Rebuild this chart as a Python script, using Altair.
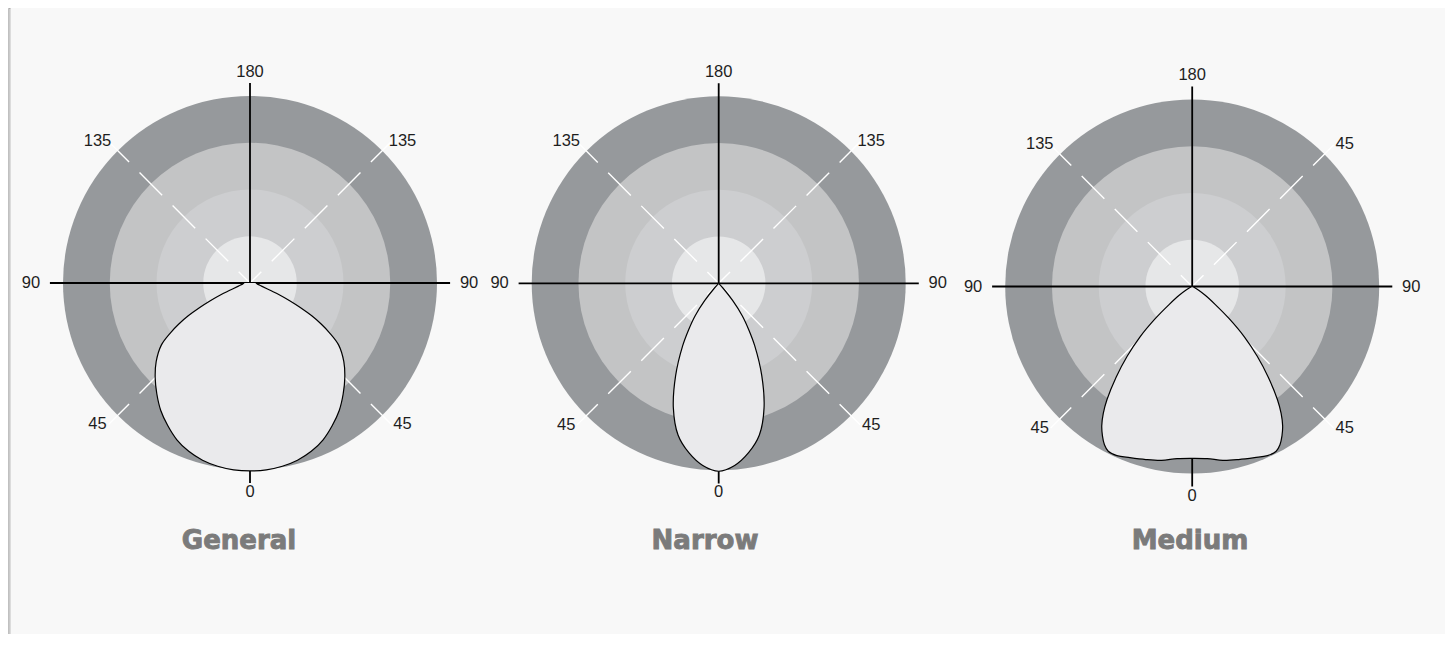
import math
import altair as alt
import pandas as pd

# ---------------- data (relative luminous intensity, % of ring scale) ----------------
PANELS = ["General", "Narrow", "Medium"]

# angle from nadir (deg) -> relative intensity (%), outer ring = 100
GENERAL_ANGLE = [0, 5, 10, 15, 20, 25, 30, 35, 40, 45, 50, 55, 58, 60, 62, 64, 66, 68, 70, 75, 80, 85, 90]
GENERAL_VALUE = [100.5, 100.3, 99.5, 98.1, 95.8, 92.5, 88.0, 83.2, 77.5, 71.7, 65.5, 57.9, 50.0,
                 44.1, 37.4, 29.9, 23.0, 17.1, 11.8, 6.4, 4.3, 3.5, 3.2]

NARROW_ANGLE = [0, 5, 10, 15, 20, 25, 30, 33, 36, 39, 42, 44]
NARROW_VALUE = [100.5, 97.8, 92.0, 84.0, 70.9, 54.5, 38.5, 29.4, 21.4, 11.8, 3.2, 0.0]

MEDIUM_ANGLE = [0, 5, 10, 15, 20, 24, 27, 29, 31, 33, 35, 37, 40, 43, 46, 49, 52, 56, 60, 65, 70]
MEDIUM_VALUE = [91.9, 92.4, 94.4, 95.8, 97.4, 99.0, 98.9, 96.8, 93.2, 88.8, 82.9, 75.7, 63.3,
                51.0, 38.9, 26.2, 15.7, 8.4, 4.0, 1.3, 0.0]

RING_LEVELS = [100, 75, 50, 25]
DIRECTIONS = [0, 45, 90, 135, 180, -135, -90, -45]       # degrees from nadir, + = right side
GENERAL_LABELS = ["0", "45", "90", "135", "180", "135", "90", "45"]
NARROW_LABELS = ["0", "45", "90", "135", "180", "135", "90", "45"]
MEDIUM_LABELS = ["0", "45", "90", "45", "180", "135", "90", "45"]
AXIS_EXTENT = 107.0   # axes / diagonals reach slightly beyond the outer ring

CURVES = {
    "General": (GENERAL_ANGLE, GENERAL_VALUE),
    "Narrow": (NARROW_ANGLE, NARROW_VALUE),
    "Medium": (MEDIUM_ANGLE, MEDIUM_VALUE),
}
LABELS = {"General": GENERAL_LABELS, "Narrow": NARROW_LABELS, "Medium": MEDIUM_LABELS}

# ---------------- layout / style ----------------
W, H = 1437, 626
PX = 1.87                                   # pixels per 1 % intensity
CENTER_PX = {"General": (242.0, 275.0), "Narrow": (710.7, 275.3), "Medium": (1184.2, 278.5)}
TITLE_X_PX = {"General": 231.0, "Narrow": 697.0, "Medium": 1182.0}
TITLE_Y_PX = 541.0
LABEL_OFFSET_PX = {0: (0, 9), 45: (11, 0), 90: (19, 0), 135: (11, -1), 180: (0, -11),
                   -135: (-11, -1), -90: (-19, 0), -45: (-11, 0)}
X0, Y0 = CENTER_PX["General"]
XDOM = [-X0 / PX, (W - X0) / PX]
YDOM = [-(H - Y0) / PX, Y0 / PX]

RING_COLORS = ["#96999c", "#c3c4c5", "#cdced0", "#e6e7e8"]
SHAPE_FILL = "#eaeaec"
CARD = "#f8f8f8"


def to_units(xpx, ypx):
    return (xpx - X0) / PX, -(ypx - Y0) / PX


xs = alt.Scale(domain=XDOM, nice=False, zero=False)
ys = alt.Scale(domain=YDOM, nice=False, zero=False)

# ---------------- tables ----------------
ring_rows, shape_rows, diag_rows, axis_rows, label_rows, title_rows = [], [], [], [], [], []
for p in PANELS:
    cx, cy = to_units(*CENTER_PX[p])
    for lv in RING_LEVELS:
        ring_rows.append({"panel": p, "cx": cx, "cy": cy, "level": lv})
    ang, val = CURVES[p]
    seq = 0
    for a, v in reversed(list(zip(ang, val))):
        shape_rows.append({"panel": p, "cx": cx, "cy": cy, "phi": -a, "v": v, "seq": seq})
        seq += 1
    for a, v in zip(ang[1:], val[1:]):
        shape_rows.append({"panel": p, "cx": cx, "cy": cy, "phi": a, "v": v, "seq": seq})
        seq += 1
    for d in [45, 135, -45, -135]:
        diag_rows.append({"panel": p, "cx": cx, "cy": cy, "phi": d, "r": AXIS_EXTENT})
    for a1, a2 in [(-90, 90), (0, 180)]:
        axis_rows.append({"panel": p, "cx": cx, "cy": cy, "a1": a1, "a2": a2, "r": AXIS_EXTENT})
    for d, t in zip(DIRECTIONS, LABELS[p]):
        ox, oy = LABEL_OFFSET_PX[d]
        label_rows.append({"panel": p, "cx": cx, "cy": cy, "phi": d, "text": t,
                           "r": AXIS_EXTENT, "ox": ox / PX, "oy": -oy / PX})
    tx, ty = to_units(TITLE_X_PX[p], TITLE_Y_PX)
    title_rows.append({"panel": p, "tx": tx, "ty": ty})

rings = pd.DataFrame(ring_rows)
shapes = pd.DataFrame(shape_rows)
diags = pd.DataFrame(diag_rows)
axes_df = pd.DataFrame(axis_rows)
labels_df = pd.DataFrame(label_rows)
titles_df = pd.DataFrame(title_rows)

RAD = "PI / 180"

# ---------------- card + shadow ----------------
one = alt.Data(values=[{}])
shadow_layers = []
for i in range(1, 4):
    shadow_layers.append(
        alt.Chart(one).mark_rect(fill="#000000", opacity=0.09).encode(
            x=alt.value(2.5 - i), x2=alt.value(W + 10),
            y=alt.value(-i), y2=alt.value(H + 10))
    )
card = alt.Chart(one).mark_rect(fill=CARD).encode(
    x=alt.value(2.5), x2=alt.value(W + 10), y=alt.value(0), y2=alt.value(H + 10))

# ---------------- rings ----------------
ring_layer = alt.Chart(rings).mark_arc(theta=0, theta2=2 * math.pi, stroke=None).encode(
    x=alt.X("cx:Q", scale=xs, axis=None),
    y=alt.Y("cy:Q", scale=ys, axis=None),
    radius=alt.Radius("level:Q", stack=None,
                      scale=alt.Scale(type="linear", domain=[0, 100], range=[0, 100 * PX], zero=True)),
    color=alt.Color("level:O", scale=alt.Scale(domain=RING_LEVELS, range=RING_COLORS), legend=None),
    order=alt.Order("level:Q", sort="descending"),
)

# ---------------- dashed diagonals ----------------
diag_layer = alt.Chart(diags).transform_calculate(
    x2=f"datum.cx + datum.r * sin(datum.phi * {RAD})",
    y2=f"datum.cy - datum.r * cos(datum.phi * {RAD})",
).mark_rule(color="#ffffff", strokeWidth=1.4, strokeDash=[32, 14.75], strokeDashOffset=16).encode(
    x=alt.X("cx:Q", scale=xs, axis=None),
    y=alt.Y("cy:Q", scale=ys, axis=None),
    x2="x2:Q", y2="y2:Q",
)

# ---------------- black axes ----------------
axis_layer = alt.Chart(axes_df).transform_calculate(
    x1=f"datum.cx + datum.r * sin(datum.a1 * {RAD})",
    y1=f"datum.cy - datum.r * cos(datum.a1 * {RAD})",
    x2=f"datum.cx + datum.r * sin(datum.a2 * {RAD})",
    y2=f"datum.cy - datum.r * cos(datum.a2 * {RAD})",
).mark_rule(color="#000000", strokeWidth=1.8).encode(
    x=alt.X("x1:Q", scale=xs, axis=None),
    y=alt.Y("y1:Q", scale=ys, axis=None),
    x2="x2:Q", y2="y2:Q",
)

# ---------------- distribution curves ----------------
shape_layer = alt.Chart(shapes).transform_calculate(
    px=f"datum.cx + datum.v * sin(datum.phi * {RAD})",
    py=f"datum.cy - datum.v * cos(datum.phi * {RAD})",
).mark_line(fill=SHAPE_FILL, stroke="#000000", strokeWidth=1.2, interpolate="catmull-rom").encode(
    x=alt.X("px:Q", scale=xs, axis=None),
    y=alt.Y("py:Q", scale=ys, axis=None),
    detail="panel:N",
    order="seq:Q",
)

# ---------------- angle labels ----------------
label_layer = alt.Chart(labels_df).transform_calculate(
    lx=f"datum.cx + datum.r * sin(datum.phi * {RAD}) + datum.ox",
    ly=f"datum.cy - datum.r * cos(datum.phi * {RAD}) + datum.oy",
).mark_text(font="Liberation Sans", fontSize=16.5, color="#1e1e1e", align="center", baseline="middle").encode(
    x=alt.X("lx:Q", scale=xs, axis=None),
    y=alt.Y("ly:Q", scale=ys, axis=None),
    text="text:N",
)

# ---------------- titles ----------------
title_layer = alt.Chart(titles_df).mark_text(
    font="DejaVu Sans", fontSize=26, fontWeight="bold", color="#7b7b7b",
    stroke="#7b7b7b", strokeWidth=0.9, align="center", baseline="alphabetic"
).encode(
    x=alt.X("tx:Q", scale=xs, axis=None),
    y=alt.Y("ty:Q", scale=ys, axis=None),
    text="panel:N",
)

chart = alt.layer(
    *shadow_layers, card, ring_layer, diag_layer, axis_layer, shape_layer, label_layer, title_layer
).properties(
    width=W, height=H, padding=0, autosize=alt.AutoSizeParams(type="none")
).configure_view(stroke=None).configure(background="#ffffff")

chart.save("out.html", embed_options={"renderer": "svg", "actions": False})
